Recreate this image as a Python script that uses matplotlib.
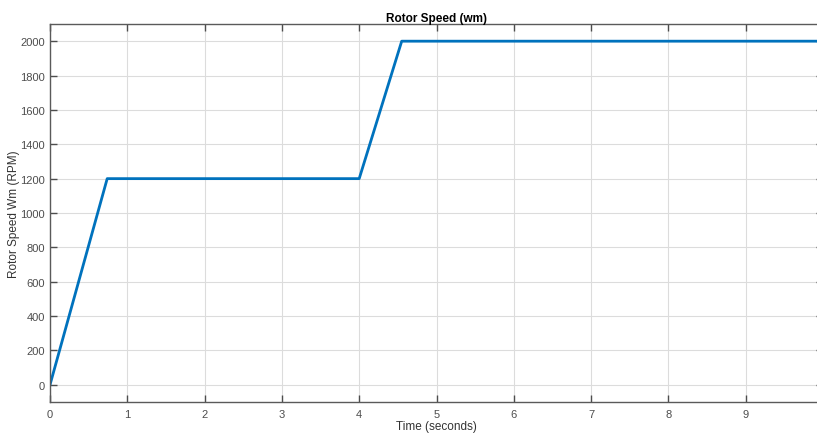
import matplotlib.pyplot as plt

plt.rcParams['font.family'] = ['Liberation Sans', 'DejaVu Sans']

# breakpoints of the speed trace
time_s = [0.0, 0.74, 4.0, 4.55, 10.0]
speed_rpm = [0, 1200, 1200, 2000, 2000]

x_ticks = list(range(0, 10))
y_ticks = list(range(0, 2001, 200))

fig = plt.figure(figsize=(8.17, 4.35), dpi=100)
W, H = 817, 435
ax = fig.add_axes([50 / W, 1 - 403 / H, (823 - 50) / W, (403 - 25) / H])

ax.plot(time_s, speed_rpm, color='#0072BD', lw=2.0)

ax.set_xlim(0, 10)
ax.set_ylim(-100, 2100)
ax.set_xticks(x_ticks)
ax.set_yticks(y_ticks)
ax.grid(True, color='#dcdcdc', lw=0.8)
ax.set_axisbelow(True)

for s in ax.spines.values():
    s.set_color('#5a5a5a')
    s.set_linewidth(1.0)
ax.tick_params(direction='in', length=5, width=1.0, color='#4d4d4d',
               labelcolor='#4d4d4d', labelsize=8, top=True, right=True)
ax.tick_params(axis='x', pad=5)

ax.set_title('Rotor Speed (wm)', fontsize=8.5, fontweight='bold', pad=2.5)
ax.set_xlabel('Time (seconds)', fontsize=8.5, color='#333333', labelpad=0.5)
ax.set_ylabel('Rotor Speed Wm (RPM)', fontsize=8.5, color='#333333', labelpad=0)

fig.savefig('out.png', dpi=100)
